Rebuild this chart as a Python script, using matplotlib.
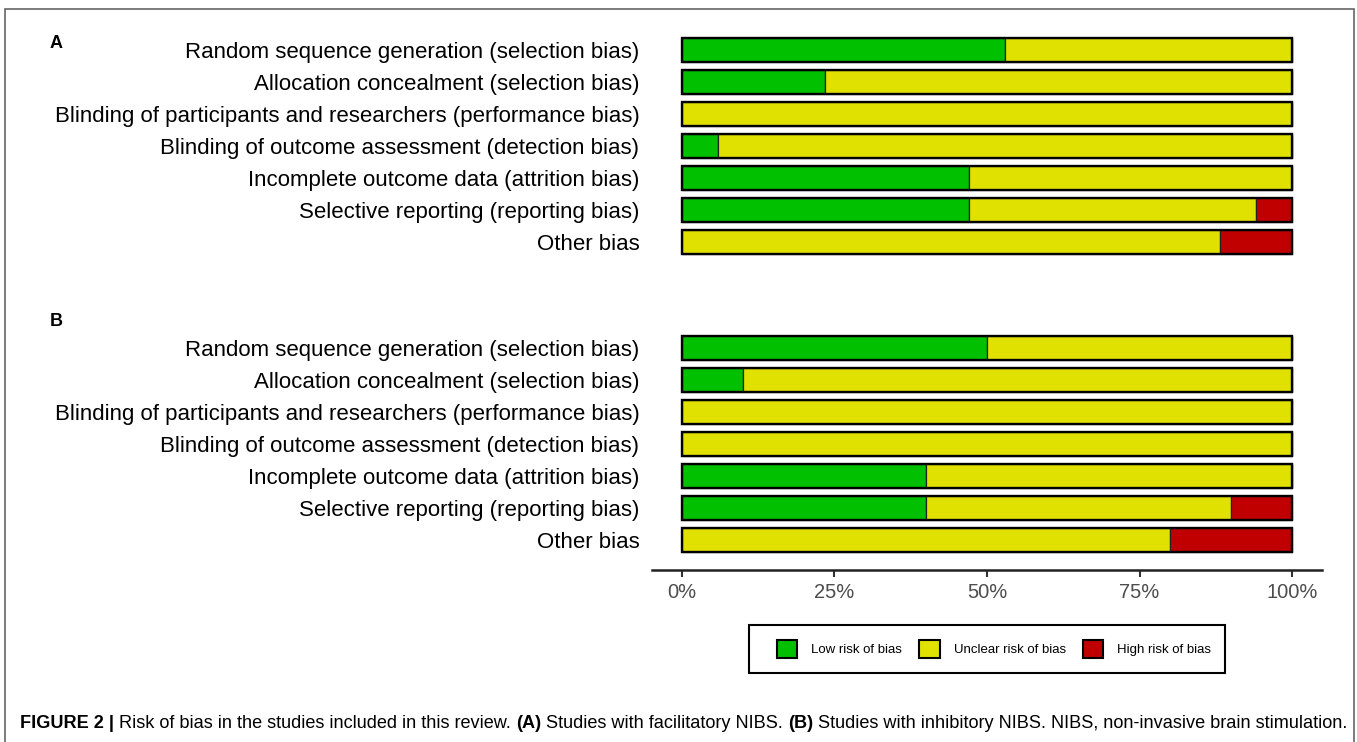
import matplotlib
matplotlib.use("Agg")
import matplotlib.pyplot as plt
from matplotlib.patches import Patch, Rectangle
from matplotlib import font_manager
import numpy as np

# risk-of-bias domains (same for both panels)
domains = [
    "Random sequence generation (selection bias)",
    "Allocation concealment (selection bias)",
    "Blinding of participants and researchers (performance bias)",
    "Blinding of outcome assessment (detection bias)",
    "Incomplete outcome data (attrition bias)",
    "Selective reporting (reporting bias)",
    "Other bias",
]

# panel A: facilitatory NIBS (17 studies), proportions
low_a = [9/17, 4/17, 0, 1/17, 8/17, 8/17, 0]
unclear_a = [8/17, 13/17, 1, 16/17, 9/17, 8/17, 15/17]
high_a = [0, 0, 0, 0, 0, 1/17, 2/17]

# panel B: inhibitory NIBS (10 studies), proportions
low_b = [0.5, 0.1, 0, 0, 0.4, 0.4, 0]
unclear_b = [0.5, 0.9, 1, 1, 0.6, 0.5, 0.8]
high_b = [0, 0, 0, 0, 0, 0.1, 0.2]

tick_vals = [0, 0.25, 0.5, 0.75, 1.0]
tick_labels = ["0%", "25%", "50%", "75%", "100%"]

GREEN = "#00c000"
YELLOW = "#e1e100"
RED = "#c00000"

# condensed font for the caption if available
try:
    font_manager.findfont("Liberation Sans Narrow", fallback_to_default=False)
    caption_font = "Liberation Sans Narrow"
except Exception:
    caption_font = "Liberation Sans"

W, H = 1357, 742
fig = plt.figure(figsize=(W / 100, H / 100), dpi=100)

# axes placed in pixel terms
left_px, right_px, top_px, bottom_px = 652, 1322, 30, 570
ax = fig.add_axes([left_px / W, 1 - bottom_px / H,
                   (right_px - left_px) / W, (bottom_px - top_px) / H])

row_px = 32.0
b_offset = (348 - 50) / row_px
ypos_a = np.arange(len(domains))
ypos_b = ypos_a + b_offset


def draw_panel(ypos, low, unclear, high):
    low = np.array(low)
    unclear = np.array(unclear)
    high = np.array(high)
    h = 0.75
    ax.barh(ypos, low, height=h, color=GREEN, edgecolor="#222222", linewidth=0.9)
    ax.barh(ypos, unclear, left=low, height=h, color=YELLOW, edgecolor="#222222", linewidth=0.9)
    ax.barh(ypos, high, left=low + unclear, height=h, color=RED, edgecolor="#222222", linewidth=0.9)
    # outline around each full bar
    ax.barh(ypos, low + unclear + high, height=h, fill=False, edgecolor="black", linewidth=1.7)


draw_panel(ypos_a, low_a, unclear_a, high_a)
draw_panel(ypos_b, low_b, unclear_b, high_b)

ax.set_xlim(-0.049, 1.049)
ax.set_ylim((bottom_px - 50) / row_px, (top_px - 50) / row_px)

ax.set_yticks(list(ypos_a) + list(ypos_b))
ax.set_yticklabels(domains + domains, fontsize=16, family="Liberation Sans", color="black")
ax.tick_params(axis="y", length=0, pad=9)

ax.set_xticks(tick_vals)
ax.set_xticklabels(tick_labels, fontsize=14.5, family="Liberation Sans", color="#4d4d4d")
ax.tick_params(axis="x", length=5, width=1.5, color="#333333", pad=4)

for s in ["left", "right", "top"]:
    ax.spines[s].set_visible(False)
ax.spines["bottom"].set_linewidth(1.8)
ax.spines["bottom"].set_color("#222222")

# panel letters
fig.text(50 / W, 1 - 43 / H, "A", fontsize=13, fontweight="bold", family="Liberation Sans", va="center")
fig.text(50 / W, 1 - 321 / H, "B", fontsize=13, fontweight="bold", family="Liberation Sans", va="center")

# legend (frame drawn separately)
handles = [
    Patch(facecolor=GREEN, edgecolor="black", linewidth=1.5, label="Low risk of bias"),
    Patch(facecolor=YELLOW, edgecolor="black", linewidth=1.5, label="Unclear risk of bias"),
    Patch(facecolor=RED, edgecolor="black", linewidth=1.5, label="High risk of bias"),
]
leg = fig.legend(handles=handles, loc="center", bbox_to_anchor=(994 / W, 1 - 649 / H),
                 ncol=3, frameon=False,
                 handlelength=1.55, handleheight=1.65, handletextpad=1.05,
                 columnspacing=1.3, borderpad=0.5, prop={"family": "Liberation Sans", "size": 9.5})
fig.patches.append(Rectangle((749 / W, 1 - 673 / H), 476 / W, 48 / H,
                             transform=fig.transFigure, fill=False,
                             edgecolor="black", linewidth=1.5))

# outer border
fig.patches.append(Rectangle((5 / W, -0.05), 1349 / W, 1 - 9 / H + 0.05,
                             transform=fig.transFigure, fill=False,
                             edgecolor="#666666", linewidth=1.2))

# caption with mixed bold / regular pieces
pieces = [
    ("FIGURE 2 | ", "bold"),
    ("Risk of bias in the studies included in this review. ", "normal"),
    ("(A)", "bold"),
    (" Studies with facilitatory NIBS. ", "normal"),
    ("(B)", "bold"),
    (" Studies with inhibitory NIBS. NIBS, non-invasive brain stimulation.", "normal"),
]
renderer = fig.canvas.get_renderer()


def place_caption(size):
    texts = []
    x = 20.0
    for txt, wt in pieces:
        t = fig.text(x / W, 1 - 723 / H, txt, fontsize=size, fontweight=wt,
                     family=caption_font, va="center", ha="left")
        x = t.get_window_extent(renderer=renderer).x1
        texts.append(t)
    return texts, x


texts, x_end = place_caption(12)
size = 12 * (1347 - 20) / (x_end - 20)
for t in texts:
    t.remove()
place_caption(size)

fig.savefig("out.png", dpi=100)
